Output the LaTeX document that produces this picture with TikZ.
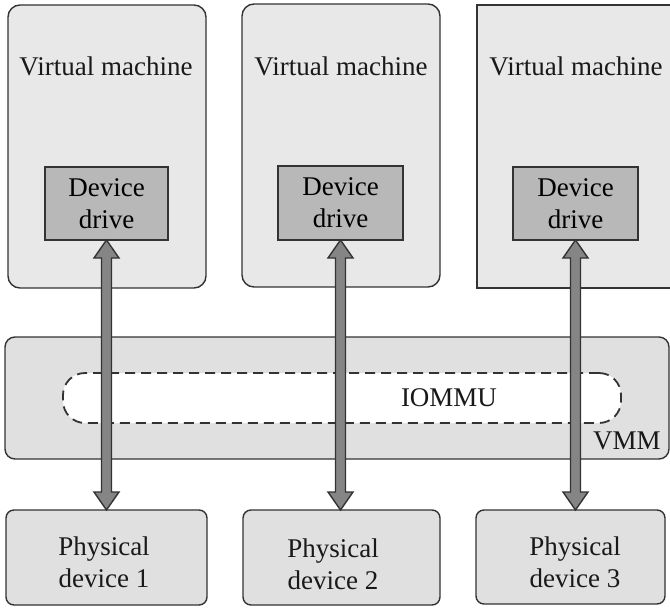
\documentclass[tikz,border=0pt]{standalone}
\usepackage{fontspec}
\setmainfont{Liberation Serif}
\usetikzlibrary{calc}
\definecolor{vmfill}{HTML}{E8E8E8}
\definecolor{ddfill}{HTML}{B8B8B8}
\definecolor{bandfill}{HTML}{E0E0E0}
\definecolor{edge}{HTML}{333333}
\definecolor{arrfill}{HTML}{858585}
\begin{document}
\begin{tikzpicture}[x=1pt,y=-1pt,
  box/.style={draw=edge, line width=1.4pt, inner sep=0pt, outer sep=0pt},
  vmbox/.style={box, fill=vmfill, rounded corners=12pt},
  ddbox/.style={box, fill=ddfill, align=center, font=\fontsize{27}{32}\selectfont},
  vmmbox/.style={box, fill=bandfill, rounded corners=10pt},
  iobox/.style={draw=edge, line width=1.8pt, dash pattern=on 10pt off 6pt, fill=white, rounded corners=22pt, inner sep=0pt},
  pdbox/.style={box, fill=bandfill, rounded corners=8pt},
  txt/.style={font=\fontsize{27}{32}\selectfont, align=center, inner sep=0pt, text=black!90},
  arrowst/.style={draw=edge, line width=1.4pt, fill=arrfill, line join=miter}
]
\useasboundingbox (0,0) rectangle (670,608);

% virtual machines
\node[vmbox, minimum width=198pt, minimum height=283pt] (vm1) at (107,146.5) {};
\node[vmbox, minimum width=198pt, minimum height=283pt] (vm2) at (341,145.5) {};
\node[box, fill=vmfill, minimum width=260pt, minimum height=283pt] (vm3) at (607,146.5) {};
\node[txt, anchor=base] (t1) at (106,75) {Virtual machine};
\node[txt, anchor=base] (t2) at (341,75) {Virtual machine};
\node[txt, anchor=base] (t3) at (576,75) {Virtual machine};

% device drivers
\node[ddbox, minimum width=123pt, minimum height=73pt] (dd1) at (106.5,203.5) {Device\\drive};
\node[ddbox, minimum width=125pt, minimum height=74pt] (dd2) at (340.5,203) {Device\\drive};
\node[ddbox, minimum width=125pt, minimum height=73pt] (dd3) at (575.5,203.5) {Device\\drive};

% VMM band and IOMMU
\node[vmmbox, minimum width=664pt, minimum height=122pt] (vmm) at (337,398) {};
\node[iobox, minimum width=558pt, minimum height=50pt] (iommu) at (342,398) {};
\node[txt] (tio) at (449,398) {IOMMU};
\node[txt, anchor=base] (tvmm) at (627,449) {VMM};

% physical devices
\node[pdbox, minimum width=201pt, minimum height=95pt] (pd1) at (106.5,557.5) {};
\node[pdbox, minimum width=197pt, minimum height=95pt] (pd2) at (341.5,557.5) {};
\node[pdbox, minimum width=189pt, minimum height=94pt] (pd3) at (570.5,557) {};
\node[txt, anchor=base] (p1) at (104,587) {Physical\\device 1};
\node[txt, anchor=base] (p2) at (333,589) {Physical\\device 2};
\node[txt, anchor=base] (p3) at (575,587) {Physical\\device 3};

% double arrows
\foreach \a/\b in {dd1/pd1, dd2/pd2, dd3/pd3}{
  \draw[arrowst] let \p1=(\a.south), \p2=(\a.south |- \b.north) in
    (\x1,\y1) -- (\x1+12.5pt,\y1-18pt) -- (\x1+5pt,\y1-18pt) -- (\x1+5pt,\y2+18pt)
    -- (\x1+12.5pt,\y2+18pt) -- (\x1,\y2) -- (\x1-12.5pt,\y2+18pt) -- (\x1-5pt,\y2+18pt)
    -- (\x1-5pt,\y1-18pt) -- (\x1-12.5pt,\y1-18pt) -- cycle;
}
\end{tikzpicture}
\end{document}
